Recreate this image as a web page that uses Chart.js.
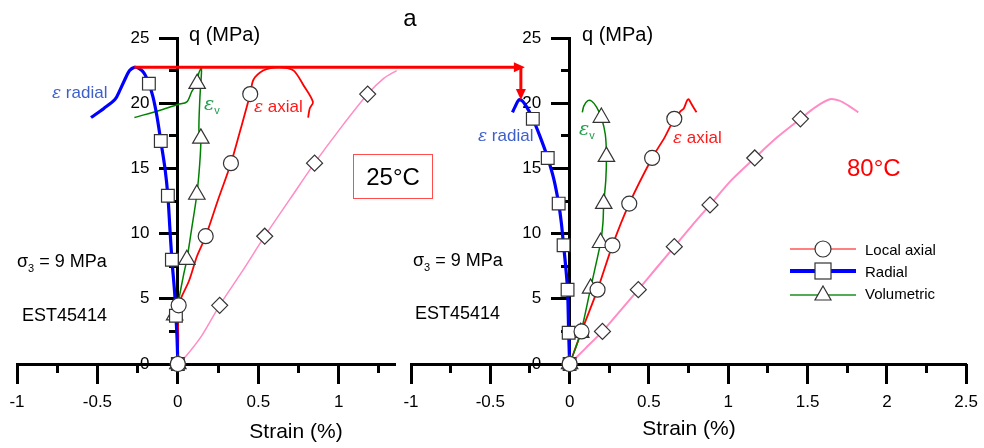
<!DOCTYPE html>
<html>
<head>
<meta charset="utf-8">
<script src="https://cdn.jsdelivr.net/npm/chart.js@4.4.1/dist/chart.umd.min.js"></script>
<style>
  body { margin: 0; background: #fff; }
  #wrap { position: relative; width: 984px; height: 448px; font-family: "Liberation Sans", Arial, sans-serif; color: #000; }
  canvas { position: absolute; left: 0; top: 0; }
  .t { position: absolute; white-space: nowrap; line-height: 1; z-index: 2; transform: translateY(-50%); }
  .c { transform: translate(-50%, -50%); }
  .eps { font-family: "DejaVu Serif", serif; font-style: italic; }
  .box25 { position: absolute; left: 353px; top: 154px; width: 78px; height: 43px; border: 1.5px solid #ff4d4d; z-index: 2;
           display: flex; align-items: center; justify-content: center; font-size: 24px; }
  .leg { position: absolute; left: 790px; z-index: 2; display: flex; align-items: center; font-size: 15px; transform: translateY(-50%); }
  .leg svg { margin-right: 9px; }
</style>
</head>
<body>
<div id="wrap">
  <canvas id="left" width="984" height="448"></canvas>
  <canvas id="right" width="984" height="448"></canvas>

  <div class="t c" style="left:410px;top:18px;font-size:24px">a</div>
  <div class="t" style="left:189px;top:34px;font-size:20px">q (MPa)</div>
  <div class="t" style="left:582px;top:34px;font-size:20px">q (MPa)</div>
  <div class="t c" style="left:296px;top:430px;font-size:21px">Strain (%)</div>
  <div class="t c" style="left:689px;top:427px;font-size:21px">Strain (%)</div>

  <div class="t" style="left:17px;top:263px;font-size:18px">σ<sub style="font-size:11px">3</sub> = 9 MPa</div>
  <div class="t" style="left:413px;top:262px;font-size:18px">σ<sub style="font-size:11px">3</sub> = 9 MPa</div>
  <div class="t" style="left:22px;top:315px;font-size:18px">EST45414</div>
  <div class="t" style="left:415px;top:313px;font-size:18px">EST45414</div>

  <div class="t" style="left:52px;top:92px;font-size:17px;color:#3d5fcb"><span class="eps">ε</span> radial</div>
  <div class="t" style="left:204px;top:105px;font-size:19px;color:#1f9d4a"><span class="eps">ε</span><sub style="font-size:11px">v</sub></div>
  <div class="t" style="left:254px;top:106px;font-size:17px;color:#ff1a1a"><span class="eps">ε</span> axial</div>
  <div class="t" style="left:478px;top:135px;font-size:17px;color:#3d5fcb"><span class="eps">ε</span> radial</div>
  <div class="t" style="left:579px;top:130px;font-size:19px;color:#1f9d4a"><span class="eps">ε</span><sub style="font-size:11px">v</sub></div>
  <div class="t" style="left:673px;top:137px;font-size:17px;color:#ff1a1a"><span class="eps">ε</span> axial</div>

  <div class="box25">25°C</div>
  <div class="t" style="left:847px;top:168px;font-size:24px;color:#ff0000">80°C</div>

  <div class="leg" style="top:249px">
    <svg width="66" height="20"><line x1="0" y1="10" x2="66" y2="10" stroke="#ff8080" stroke-width="2"/><circle cx="33" cy="10" r="8" fill="#fff" stroke="#333" stroke-width="1.2"/></svg>Local axial</div>
  <div class="leg" style="top:271px">
    <svg width="66" height="20"><line x1="0" y1="10" x2="66" y2="10" stroke="#0000ff" stroke-width="4"/><rect x="25" y="2" width="16" height="16" fill="#fff" stroke="#333" stroke-width="1.2"/></svg>Radial</div>
  <div class="leg" style="top:293px">
    <svg width="66" height="20"><line x1="0" y1="12" x2="66" y2="12" stroke="#55aa55" stroke-width="2"/><polygon points="33,3 41,17 25,17" fill="#fff" stroke="#333" stroke-width="1.2"/></svg>Volumetric</div>
</div>

<script>
// strain (%) , q (MPa) — 25°C test
const radial25 = [[0,0],[-0.005,2],[-0.012,3.7],[-0.02,5.5],[-0.037,8.0],[-0.05,10.5],[-0.062,12.9],[-0.08,15],
  [-0.106,17.1],[-0.13,19],[-0.155,20.5],[-0.18,21.5],[-0.21,22.3],[-0.24,22.65],[-0.27,22.75],[-0.3,22.5],
  [-0.33,21.8],[-0.36,21.0],[-0.39,20.3],[-0.46,19.6],[-0.54,18.9]];
const axial25 = [[0,0],[0.003,2],[0.005,4.5],[0.07,6.4],[0.12,8.3],[0.173,9.8],[0.25,12.6],[0.33,15.4],[0.39,18],
  [0.45,20.7],[0.47,21.8],[0.53,22.5],[0.6,22.75],[0.65,22.75],[0.72,22.5],[0.78,21.4],[0.84,20.1],[0.82,19.6],[0.81,18.9]];
const vol25 = [[0,0],[-0.005,2],[-0.012,3.7],[0.01,5.2],[0.035,6.8],[0.056,8.0],[0.085,10.3],[0.118,13.0],[0.135,15.2],
  [0.143,17.3],[0.131,17.9],[0.137,20.4],[0.147,22.7],[0.13,22.3],[0.118,21.5],[0.087,20.9],[0.056,20.1],[0.0,19.9],
  [-0.1,19.5],[-0.27,18.9]];
const ext25 = [[0,0],[0.05,0.6],[0.15,2.2],[0.26,4.5],[0.4,7.1],[0.54,9.8],[0.7,12.7],[0.85,15.4],[1.0,17.9],
  [1.18,20.7],[1.28,21.9],[1.36,22.5]];

const axialMarks25 = [[0,0],[0.005,4.5],[0.173,9.8],[0.33,15.4],[0.45,20.7]];
const radialMarks25 = [[0,0],[-0.012,3.7],[-0.037,8.0],[-0.062,12.9],[-0.106,17.1],[-0.18,21.5]];
const volMarks25 = [[0,0],[-0.02,3.75],[0.056,8.0],[0.118,13.0],[0.143,17.3],[0.12,21.5]];
const extMarks25 = [[0,0],[0.26,4.5],[0.54,9.8],[0.85,15.4],[1.18,20.7]];

// 80°C test
const radial80 = [[0,0],[-0.006,2.4],[-0.013,5.7],[-0.025,7.5],[-0.038,9.1],[-0.052,10.8],[-0.069,12.3],[-0.1,14.2],
  [-0.138,15.8],[-0.185,17.4],[-0.232,18.8],[-0.27,19.7],[-0.3,20.2],[-0.32,20.25],[-0.345,19.7],[-0.36,19.3]];
const axial80 = [[0,0],[0.075,2.5],[0.176,5.7],[0.27,9.1],[0.376,12.3],[0.52,15.8],[0.6,17.4],[0.66,18.8],
  [0.7,19.4],[0.72,19.6],[0.74,20.2],[0.75,20.3],[0.77,19.9],[0.8,19.3]];
const vol80 = [[0,0],[0.07,2.4],[0.132,5.8],[0.165,7.6],[0.195,9.3],[0.21,10.8],[0.215,12.3],[0.228,14.1],[0.232,15.9],
  [0.225,17.6],[0.2,18.9],[0.17,19.7],[0.14,20.15],[0.115,20.2],[0.09,19.8],[0.08,19.3]];
const ext80 = [[0,0],[0.1,1.2],[0.207,2.5],[0.32,4.1],[0.433,5.7],[0.55,7.4],[0.66,9.0],[0.77,10.6],[0.885,12.2],
  [1.02,14.1],[1.167,15.8],[1.31,17.4],[1.455,18.8],[1.55,19.7],[1.64,20.3],[1.7,20.2],[1.76,19.8],[1.82,19.3]];

const axialMarks80 = [[0,0],[0.075,2.5],[0.176,5.7],[0.27,9.1],[0.376,12.3],[0.52,15.8],[0.66,18.8]];
const radialMarks80 = [[0,0],[-0.006,2.4],[-0.013,5.7],[-0.038,9.1],[-0.069,12.3],[-0.138,15.8],[-0.232,18.8]];
const volMarks80 = [[0,0],[0.07,2.4],[0.132,5.8],[0.195,9.3],[0.215,12.3],[0.232,15.9],[0.2,18.9]];
const extMarks80 = [[0,0],[0.207,2.5],[0.433,5.7],[0.66,9.0],[0.885,12.2],[1.167,15.8],[1.455,18.8]];

const xRange25 = [-1, 1.35];
const xRange80 = [-1, 2.5];
const qRange = [0, 25];

const pts = arr => arr.map(p => ({x: p[0], y: p[1]}));
const peakOf = arr => arr.reduce((a, b) => (b[1] > a[1] ? b : a));

const FONT = 'Liberation Sans, Arial, sans-serif';
const Y_TICK = 17, Y_PAD = 10;
const X_EXTRA = 4; // extra drop of the x labels (ticks.padding also widens the side margins)

function curve(data, color, width, order) {
    return {
        data: pts(data),
        showLine: true,
        borderColor: color,
        borderWidth: width,
        pointRadius: 0,
        tension: 0.3,
        clip: false,
        order: order
    };
}

function marks(data, style, radius) {
    return {
        data: pts(data),
        showLine: false,
        pointStyle: style,
        pointRadius: radius,
        pointBackgroundColor: '#fff',
        pointBorderColor: '#333',
        pointBorderWidth: 1.2,
        clip: false,
        order: 0
    };
}

function makeScales(xr) {
    const tickFont = {family: FONT, size: 17};
    return {
        x: {
            type: 'linear', min: xr[0], max: xr[1], position: {y: 0},
            ticks: {stepSize: 0.5, includeBounds: false, autoSkip: false, maxRotation: 0, font: tickFont, color: '#000',
                    padding: 6, callback: v => String(v)},
            grid: {drawOnChartArea: false, tickLength: 18, tickWidth: 3, tickColor: '#000'},
            border: {display: true, width: 3, color: '#000'}
        },
        xMinor: {
            type: 'linear', min: xr[0], max: xr[1], position: {y: 0},
            ticks: {stepSize: 0.25, includeBounds: false, autoSkip: false, callback: () => ''},
            grid: {drawOnChartArea: false, tickLength: 9, tickWidth: 3, tickColor: '#000'},
            border: {display: false}
        },
        y: {
            type: 'linear', min: qRange[0], max: qRange[1], position: {x: 0},
            ticks: {stepSize: 5, includeBounds: false, font: tickFont, color: '#000', callback: v => String(v)},
            grid: {drawOnChartArea: false, tickLength: Y_TICK, tickWidth: 3, tickColor: '#000'},
            border: {display: true, width: 3, color: '#000'}
        },
        yMinor: {
            type: 'linear', min: qRange[0], max: qRange[1], position: {x: 0},
            ticks: {stepSize: 2.5, includeBounds: false, callback: () => ''},
            grid: {drawOnChartArea: false, tickLength: 9, tickWidth: 3, tickColor: '#000'},
            border: {display: false}
        }
    };
}

// centred y axes put their labels right on the axis line: push them left of the ticks
const labelShift = {
    id: 'labelShift',
    beforeDraw(chart) {
        const yItems = chart.scales.y.getLabelItems();
        if (!yItems._shifted) {
            yItems.forEach(it => { it.options.translation[0] -= Y_TICK + Y_PAD + 1.5; });
            yItems._shifted = true;
        }
        const xItems = chart.scales.x.getLabelItems();
        if (!xItems._shifted) {
            xItems.forEach(it => { it.options.translation[1] += X_EXTRA; });
            xItems._shifted = true;
        }
    }
};

function makeChart(id, sets, xr, padding, plugins) {
    return new Chart(document.getElementById(id), {
        type: 'scatter',
        data: {datasets: sets},
        options: {
            responsive: false,
            animation: false,
            devicePixelRatio: 1,
            layout: {padding: padding},
            scales: makeScales(xr),
            plugins: {legend: {display: false}, tooltip: {enabled: false}}
        },
        plugins: [labelShift].concat(plugins || [])
    });
}

const leftChart = makeChart('left', [
    marks(axialMarks25, 'circle', 7.5),
    marks(radialMarks25, 'rect', 9),
    marks(volMarks25, 'triangle', 9.5),
    marks(extMarks25, 'rectRot', 8),
    curve(radial25, '#0000ff', 3.2, 1),
    curve(vol25, '#008000', 1.5, 2),
    curve(axial25, '#ff0000', 1.8, 3),
    curve(ext25, '#ff8cc6', 1.5, 4)
], xRange25, {left: 17, right: 589, top: 38, bottom: 84});

// red arrow from the 25°C radial peak to the 80°C radial peak
const peakArrow = {
    id: 'peakArrow',
    afterDatasetsDraw(chart) {
        const p25 = peakOf(radial25);
        const p80 = peakOf(radial80);
        const x0 = leftChart.scales.x.getPixelForValue(p25[0]);
        const y0 = leftChart.scales.y.getPixelForValue(p25[1]);
        const x1 = chart.scales.x.getPixelForValue(p80[0]) + 3;
        const y1 = chart.scales.y.getPixelForValue(p80[1]);
        const ctx = chart.ctx;
        ctx.save();
        ctx.strokeStyle = '#ff0000';
        ctx.fillStyle = '#ff0000';
        ctx.lineWidth = 3;
        ctx.beginPath();
        ctx.moveTo(x0, y0);
        ctx.lineTo(x1 - 6, y0);
        ctx.moveTo(x1 - 1, y0);
        ctx.lineTo(x1 - 1, y1 - 8);
        ctx.stroke();
        ctx.beginPath();
        ctx.moveTo(x1 + 3, y0);
        ctx.lineTo(x1 - 8, y0 - 5);
        ctx.lineTo(x1 - 8, y0 + 5);
        ctx.closePath();
        ctx.fill();
        ctx.beginPath();
        ctx.moveTo(x1 - 1, y1);
        ctx.lineTo(x1 - 6, y1 - 11);
        ctx.lineTo(x1 + 4, y1 - 11);
        ctx.closePath();
        ctx.fill();
        ctx.restore();
    }
};

const rightChart = makeChart('right', [
    marks(axialMarks80, 'circle', 7.5),
    marks(radialMarks80, 'rect', 9),
    marks(volMarks80, 'triangle', 9.5),
    marks(extMarks80, 'rectRot', 8),
    curve(radial80, '#0000ff', 3.2, 1),
    curve(vol80, '#008000', 1.5, 2),
    curve(axial80, '#ff0000', 1.8, 3),
    curve(ext80, '#ff8cc6', 2, 4)
], xRange80, {left: 411, right: 16, top: 38, bottom: 84}, [peakArrow]);
</script>
</body>
</html>
